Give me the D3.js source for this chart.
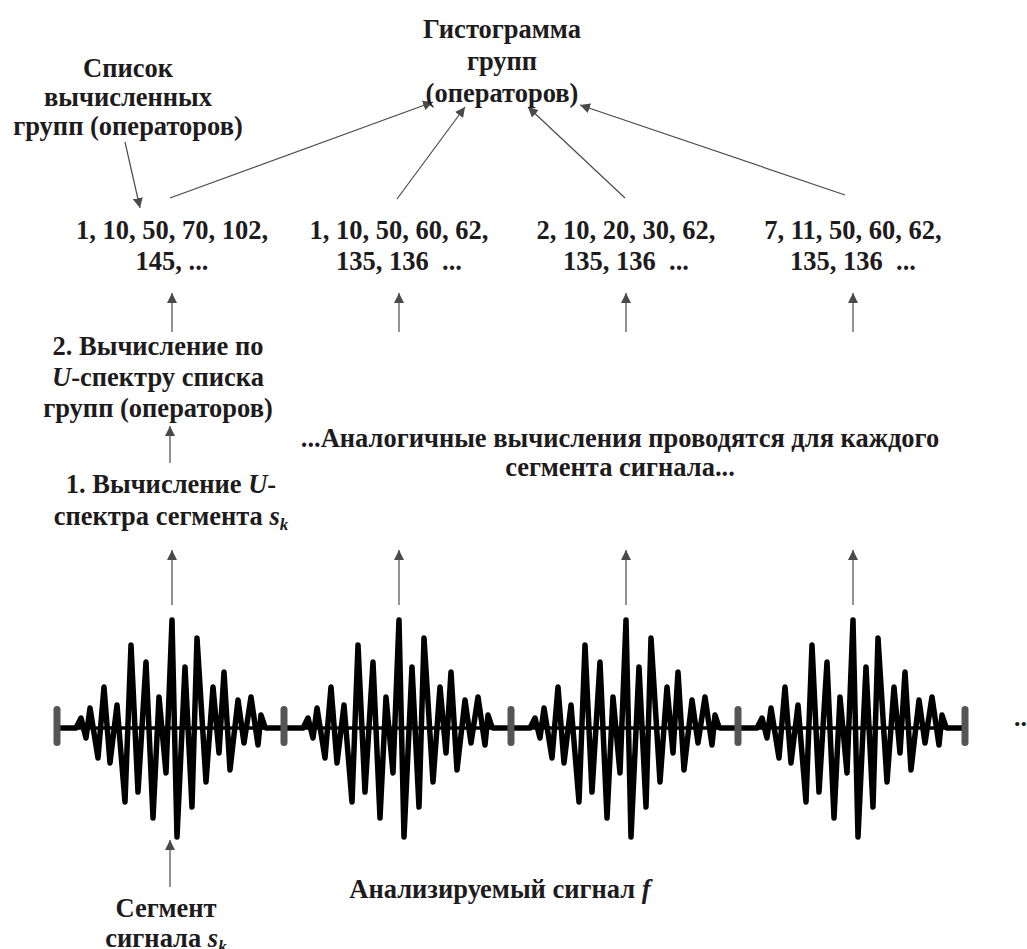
<!DOCTYPE html>
<html>
<head>
<meta charset="utf-8">
<script src="https://cdn.jsdelivr.net/npm/d3@7"></script>
<style>
  body { margin: 0; background: #fff; }
  svg text { font-family: "Liberation Serif", "Times New Roman", serif; font-weight: bold; fill: #1e1b1c; }
</style>
</head>
<body>
<svg width="1027" height="949"></svg>
<script>
const svg = d3.select("svg");

// one segment of the signal: sample position and amplitude (the four segments are identical)
const waveT = [0, 19, 24, 29, 33, 41, 47, 53, 60, 68, 74, 81, 89, 96, 102, 109, 115, 120, 128, 135,
               140, 149, 156, 162, 167, 173, 181, 187, 194, 201, 204, 208, 209, 227];
const waveA = [0, 0, 10, -10, 20, -30, 41, -35, 23, -74, 83, -64, 66, -90, 31, -45, 108, -109, 61, -79,
               90, -54, 41, -25, 56, -42, 28, -15, 31, -17, 13, 1, 0, 0];
const segLength = 227;
const segCount = 4;
const peakT = 115;

// computed group lists for each segment
const groupLists = [
  ["1, 10, 50, 70, 102,", "145, ..."],
  ["1, 10, 50, 60, 62,", "135, 136\u00a0\u00a0..."],
  ["2, 10, 20, 30, 62,", "135, 136\u00a0\u00a0..."],
  ["7, 11, 50, 60, 62,", "135, 136\u00a0\u00a0..."]
];

// scales
const x = d3.scaleLinear().domain([0, segLength * segCount]).range([57, 965]);
const y = d3.scaleLinear().domain([-110, 110]).range([838, 618]);

// arrow head
svg.append("defs").append("marker")
    .attr("id", "head")
    .attr("viewBox", "0 0 10 10")
    .attr("refX", 10).attr("refY", 5)
    .attr("markerUnits", "userSpaceOnUse")
    .attr("markerWidth", 10).attr("markerHeight", 10)
    .attr("orient", "auto")
  .append("path")
    .attr("d", "M0,0 L10,5 L0,10 Z")
    .attr("fill", "#4a4a4a");

function arrow(x1, y1, x2, y2) {
  svg.append("line")
      .attr("x1", x1).attr("y1", y1).attr("x2", x2).attr("y2", y2)
      .attr("stroke", "#4a4a4a").attr("stroke-width", 1.2)
      .attr("marker-end", "url(#head)");
}

// text helper: each line is a list of [string, kind] pieces
function label(cx, y0, lines, dy = 31) {
  const t = svg.append("text").attr("text-anchor", "middle").style("font-size", "26.5px");
  lines.forEach((pieces, i) => {
    if (typeof pieces === "string") pieces = [[pieces]];
    pieces.forEach(([s, kind], j) => {
      const ts = t.append("tspan").text(s);
      if (j === 0) ts.attr("x", cx).attr("y", y0 + i * dy);
      if (kind === "i") ts.style("font-style", "italic");
      if (kind === "sub") ts.style("font-style", "italic").style("font-size", "17px").attr("dy", 5);
    });
  });
  return t;
}

// signal baseline
svg.append("line")
    .attr("x1", x(0)).attr("x2", x(segLength * segCount))
    .attr("y1", y(0)).attr("y2", y(0))
    .attr("stroke", "#000").attr("stroke-width", 3.5);

// waveform segments
const line = d3.line()
    .x(d => x(d.t))
    .y(d => y(d.a));

for (let s = 0; s < segCount; s++) {
  const data = waveT.map((t, i) => ({ t: t + s * segLength, a: waveA[i] }));
  svg.append("path")
      .datum(data)
      .attr("d", line)
      .attr("fill", "none")
      .attr("stroke", "#000")
      .attr("stroke-width", 5.5)
      .attr("stroke-linejoin", "round");
}

// segment boundary markers
d3.range(segCount + 1).forEach(i => {
  svg.append("rect")
      .attr("x", x(i * segLength) - 3.5).attr("y", y(0) - 22)
      .attr("width", 7).attr("height", 40)
      .attr("rx", 3.5)
      .attr("fill", "#555");
});

svg.append("text").attr("x", 1014).attr("y", 726).style("font-size", "26px").text("...");

// per-segment arrows and group lists
groupLists.forEach((lines, s) => {
  const cx = x(s * segLength + peakT);
  arrow(cx, 605, cx, 550);
  arrow(cx, 332, cx, 293);
  label(cx, 239, lines);
});

// arrows into the histogram
arrow(170, 198, 433, 102);
arrow(397, 199, 465, 107);
arrow(625, 198, 528, 107);
arrow(845, 195, 580, 105);

// labels
label(502, 38, ["Гистограмма", "групп", "(операторов)"], 32);
label(128, 77, ["Список", "вычисленных", "групп (операторов)"], 29);
arrow(125, 142, 140, 208);

label(158, 355, ["2. Вычисление по", [["U", "i"], ["-спектру списка"]], "групп (операторов)"]);
arrow(170, 463, 170, 426);
label(171, 493, [[["1. Вычисление "], ["U", "i"], ["-"]], [["спектра сегмента "], ["s", "i"], ["k", "sub"]]], 32);

label(620, 447, ["...Аналогичные вычисления проводятся для каждого", "сегмента сигнала..."], 29);

label(500, 898, [[["Анализируемый сигнал "], ["f", "i"]]]);

arrow(170, 887, 170, 840);
label(166, 917, ["Сегмент", [["сигнала "], ["s", "i"], ["k", "sub"]]], 30);
</script>
</body>
</html>
